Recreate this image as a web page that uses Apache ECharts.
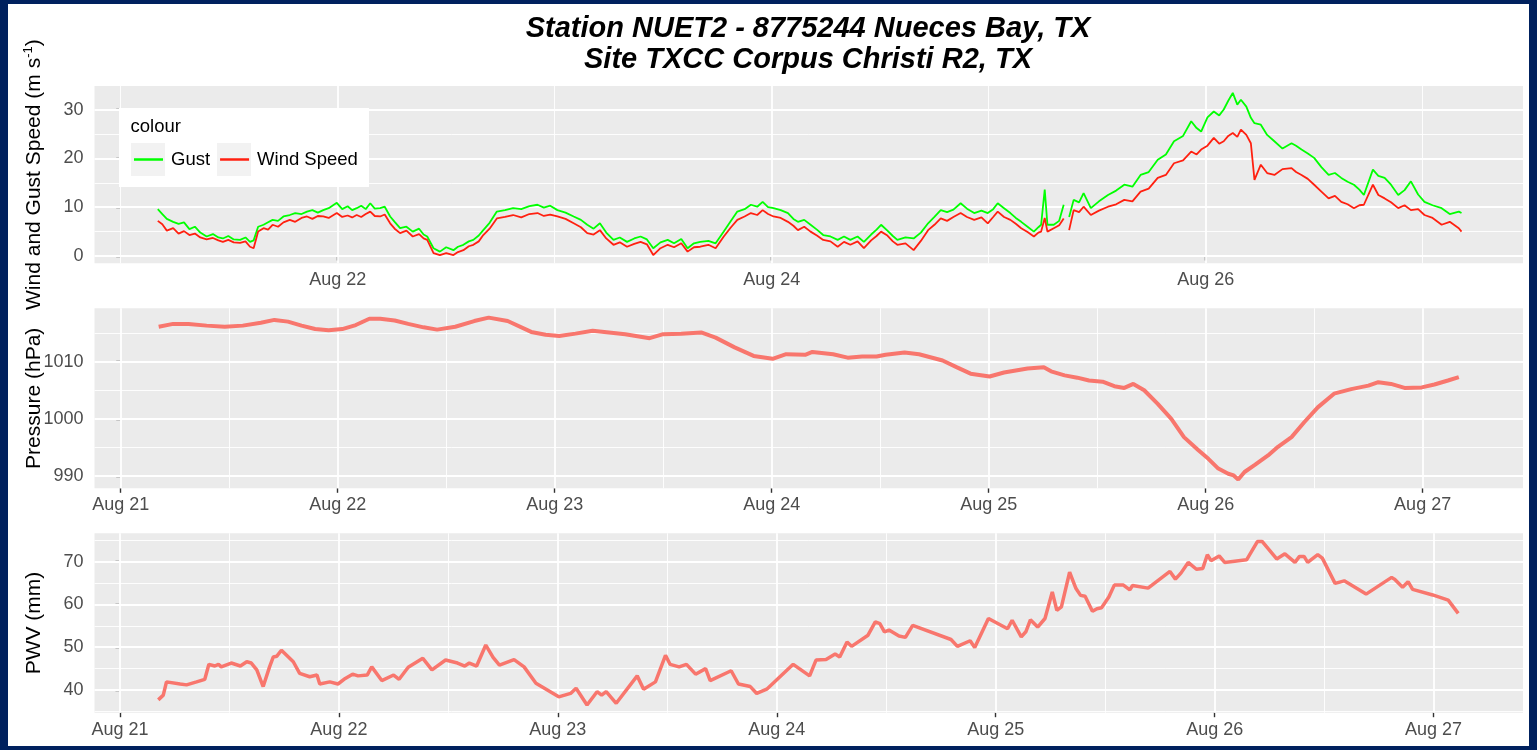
<!DOCTYPE html>
<html><head><meta charset="utf-8">
<script src="https://cdn.jsdelivr.net/npm/echarts@6/dist/echarts.min.js"></script>
<style>
html,body{margin:0;padding:0;background:#00215E;width:1537px;height:750px;overflow:hidden}
#chart{position:absolute;left:8px;top:4px;width:1521px;height:742px;background:#ffffff}
</style></head><body><div id="chart"></div>
<script>
// ---------- data (x = hours since Aug 21 00:00) ----------
const dayLabels = ['Aug 21','Aug 22','Aug 23','Aug 24','Aug 25','Aug 26','Aug 27'];

const windHours = [
 4.1,4.6,5.1,5.8,6.4,7.0,7.6,8.2,8.8,9.5,
 10.2,10.8,11.3,11.9,12.5,13.2,13.8,14.3,14.7,15.2,
 15.8,16.3,16.8,17.4,18.0,18.7,19.3,20.0,20.6,21.2,
 21.8,22.4,23.0,23.9,24.5,25.1,25.6,26.1,26.6,27.1,
 27.6,28.1,28.7,29.2,29.8,30.3,30.9,31.6,32.3,33.0,
 33.5,33.9,34.6,35.3,36.0,36.8,37.3,37.9,38.5,39.0,
 39.6,40.1,40.8,41.6,42.5,43.4,44.3,45.2,46.1,46.8,
 47.5,48.3,49.2,50.1,50.9,51.6,52.3,53.0,53.7,54.5,
 55.2,56.0,56.8,57.5,58.2,58.9,59.7,60.5,61.2,62.0,
 62.7,63.4,64.1,65.0,65.8,66.7,67.5,68.2,69.0,69.7,
 70.4,71.0,71.6,72.2,73.0,73.8,74.4,74.9,75.6,76.3,
 77.0,77.7,78.5,79.3,80.0,80.7,81.5,82.2,83.0,83.6,
 84.1,84.8,85.4,85.9,86.8,87.7,88.5,89.3,90.0,90.7,
 91.4,92.1,92.9,93.6,94.4,95.2,95.9,96.5,97.0,97.7,
 98.4,99.0,99.6,100.3,101.0,101.5,101.8,102.2,102.5,103.2,
 103.8,104.3,104.6,104.9,105.4,106.0,106.5,107.3,108.2,109.2,
 110.1,111.0,111.9,112.8,113.7,114.7,115.6,116.5,117.5,118.4,
 119.0,119.5,120.2,120.9,121.5,122.0,122.5,123.0,123.5,123.9,
 124.5,125.0,125.4,126.1,126.8,127.6,128.5,129.5,130.0,130.6,
 131.3,132.0,132.8,133.6,134.3,135.0,135.7,136.4,137.0,137.5,
 138.5,139.1,139.8,140.5,141.3,142.0,142.7,143.5,144.2,145.1,
 146.1,147.0,148.0,148.3
];
const windSpeed = [
 7.2,6.5,5.2,5.7,4.6,5.1,4.3,4.6,3.8,3.4,
 3.7,3.2,2.9,3.3,2.8,2.7,3.0,1.9,1.6,5.0,
 5.7,5.4,6.4,6.0,6.9,7.4,7.0,7.8,8.1,7.6,
 8.2,8.1,7.8,8.8,8.0,8.3,7.9,8.4,8.0,8.6,
 9.1,8.2,8.1,8.5,6.7,5.6,4.7,5.2,4.0,4.5,
 3.6,3.3,0.6,0.2,0.6,0.2,0.8,1.2,2.0,2.3,
 3.0,4.3,5.6,7.7,8.0,8.4,7.9,8.6,8.8,8.2,
 8.5,8.1,7.6,6.7,5.9,4.7,4.4,5.3,3.6,2.3,
 2.8,1.9,2.5,2.9,2.4,0.2,1.6,2.3,1.8,2.6,
 0.9,1.8,1.9,2.3,1.6,4.0,5.9,7.4,8.1,8.8,
 8.4,9.4,8.6,8.1,7.8,7.0,6.2,5.3,6.0,5.0,
 4.2,3.3,3.0,1.9,2.9,2.3,3.0,1.6,3.2,4.1,
 5.0,4.2,3.0,2.3,2.6,1.2,3.1,5.3,6.4,7.7,
 7.2,8.0,8.8,8.0,7.4,7.9,6.7,8.0,9.1,8.0,
 7.4,6.6,5.7,4.9,4.0,4.8,5.0,7.8,5.0,5.7,
 6.3,7.7,null,5.3,9.4,9.0,10.1,8.4,9.3,10.1,
 10.6,11.5,11.2,13.2,13.8,16.0,16.6,19.0,19.6,21.4,
 20.8,21.8,22.6,24.2,23.0,23.5,24.6,25.2,24.4,25.9,
 24.8,23.1,15.6,18.7,17.0,16.6,17.8,18.0,17.2,16.6,
 15.8,14.6,13.2,11.8,12.3,11.1,10.6,9.8,10.4,10.5,
 14.6,12.5,11.8,11.0,9.8,10.4,9.4,9.6,8.4,7.8,
 6.4,7.0,5.7,5.0
];
const gustSpeed = [
 9.6,8.6,7.6,7.0,6.6,6.9,5.5,6.0,4.8,4.0,
 4.5,3.8,3.6,4.1,3.4,3.3,3.8,2.9,3.2,6.0,
 6.4,6.9,7.4,7.2,8.1,8.4,8.8,8.6,9.1,9.4,
 8.9,9.4,9.8,10.9,9.6,10.2,9.4,9.8,10.3,9.6,
 10.8,9.7,9.8,10.1,8.1,7.0,5.7,6.0,5.0,5.6,
 4.4,4.0,1.6,0.9,1.8,1.2,1.9,2.3,3.0,3.3,
 4.2,5.3,6.8,9.1,9.4,9.8,9.6,10.2,10.5,9.9,
 10.3,9.4,8.9,8.1,7.4,6.4,5.6,6.7,4.8,3.3,
 3.8,2.9,3.6,4.0,3.4,1.6,2.8,3.3,2.6,3.5,
 1.6,2.6,2.9,3.1,2.6,5.0,7.2,9.1,9.6,10.5,
 10.1,11.1,10.0,9.8,9.4,8.8,7.6,7.0,7.4,6.4,
 5.4,4.3,4.0,3.3,4.0,3.3,4.0,2.9,4.4,5.4,
 6.4,5.2,4.1,3.3,3.8,3.6,4.8,6.7,8.0,9.4,
 9.0,9.5,10.8,9.7,8.8,9.3,8.8,9.6,10.8,9.8,
 8.8,7.8,7.0,6.0,5.0,5.9,6.4,13.6,6.4,6.4,
 7.2,10.5,null,8.0,11.5,11.0,12.9,9.8,11.2,12.5,
 13.4,14.6,14.2,16.6,17.2,19.7,20.8,23.5,24.6,27.6,
 26.2,25.5,28.4,29.6,28.8,30.0,31.8,33.4,31.0,32.0,
 30.6,28.3,27.2,26.9,24.8,23.5,22.0,23.1,22.6,21.8,
 21.0,20.1,18.2,16.6,17.0,16.0,15.2,14.6,13.6,12.5,
 17.7,16.4,16.0,14.6,12.5,13.5,15.3,12.6,11.1,10.4,
 9.8,8.6,9.1,8.8
];

const pressureHours = [
 4.2,5.8,7.5,9.5,11.5,13.5,15.5,17.0,18.5,20.0,
 21.5,23.0,24.5,26.0,27.5,28.7,30.3,31.8,33.5,35.0,
 37.0,39.1,40.7,42.8,45.4,47.0,48.5,50.3,52.2,54.0,
 55.8,58.5,60.0,62.0,64.2,65.8,67.9,70.0,72.1,73.6,
 75.7,76.5,78.8,80.4,82.0,83.6,84.6,86.7,88.3,90.9,
 92.5,94.0,96.1,97.7,100.3,102.1,102.9,104.4,105.8,107.1,
 108.6,109.9,111.0,112.0,113.2,114.7,116.2,117.6,119.2,120.3,
 121.4,122.5,123.1,123.6,124.3,125.4,126.9,128.0,129.5,130.9,
 132.4,134.2,136.1,138.0,139.1,140.5,142.0,143.9,145.3,146.8,
 148.0
];
const pressure = [
 1016.1,1016.6,1016.6,1016.3,1016.1,1016.3,1016.8,1017.3,1017.0,1016.3,
 1015.7,1015.5,1015.7,1016.4,1017.5,1017.5,1017.2,1016.6,1016.0,1015.6,
 1016.1,1017.1,1017.7,1017.1,1015.2,1014.7,1014.5,1014.9,1015.4,1015.1,
 1014.8,1014.1,1014.8,1014.9,1015.1,1014.2,1012.5,1011.0,1010.5,1011.3,
 1011.2,1011.7,1011.3,1010.7,1010.9,1010.9,1011.2,1011.6,1011.3,1010.2,
 1009.0,1007.9,1007.4,1008.1,1008.8,1009.0,1008.3,1007.6,1007.2,1006.7,
 1006.5,1005.7,1005.4,1006.1,1005.0,1002.6,1000.0,996.8,994.5,993.0,
 991.3,990.4,990.1,989.4,990.7,991.9,993.6,995.1,996.8,999.4,
 1002.0,1004.4,1005.2,1005.8,1006.4,1006.1,1005.4,1005.5,1006.0,1006.7,
 1007.3
];

const pwvHours = [
 4.2,4.75,5.1,6.6,7.3,8.4,9.3,9.75,10.4,10.8,
 11.1,12.2,13.2,13.9,14.4,15.0,15.7,16.4,16.8,17.2,
 17.7,19.0,19.7,20.8,21.6,21.9,23.0,23.9,24.7,25.5,
 26.1,27.1,27.6,28.7,30.0,30.6,31.6,33.2,34.2,35.7,
 37.0,37.8,38.3,39.1,40.1,40.9,41.6,43.2,44.3,45.6,
 48.1,49.4,50.0,51.2,52.3,52.8,53.3,54.4,56.7,57.4,
 58.7,59.8,60.3,61.3,62.1,63.1,64.2,64.7,67.0,67.8,
 69.1,69.8,70.9,73.8,75.6,76.3,77.4,78.4,78.9,79.7,
 80.2,82.0,82.8,83.3,83.8,84.3,85.4,86.1,86.9,91.1,
 91.8,93.2,93.7,95.2,97.3,97.8,98.8,99.3,99.8,100.6,
 101.4,102.2,102.7,103.2,104.1,104.8,105.3,105.8,106.6,107.1,
 107.6,108.4,109.0,110.0,110.7,111.0,112.7,115.1,115.7,116.3,
 116.5,117.1,118.0,118.7,119.2,119.6,120.5,121.1,123.5,124.7,
 125.2,126.8,127.7,128.8,129.3,129.8,130.2,131.3,131.8,133.2,
 134.2,136.6,139.4,139.7,140.6,141.2,141.7,143.9,145.6,146.7
];
const pwv = [
 37.7,38.8,41.9,41.4,41.2,41.9,42.5,46.0,45.6,46.0,
 45.4,46.3,45.6,46.6,46.3,44.7,40.8,45.4,47.7,47.9,
 49.3,46.6,43.9,43.1,43.5,41.4,41.9,41.4,42.7,43.7,
 43.3,43.5,45.4,42.2,43.5,42.5,45.3,47.4,44.7,47.0,
 46.3,45.6,46.3,45.6,50.5,47.6,45.8,47.1,45.4,41.6,
 38.4,39.2,40.4,36.5,39.6,38.8,39.6,36.9,43.3,40.2,
 41.9,48.1,46.0,45.4,46.0,43.7,45.0,42.2,44.5,41.4,
 40.8,39.2,40.2,46.0,43.3,47.0,47.1,48.4,47.7,51.2,
 50.2,52.8,55.9,55.5,53.6,54.0,52.6,52.3,55.1,51.8,
 50.2,51.5,49.9,56.7,54.3,56.3,52.4,53.6,56.4,54.7,
 56.7,62.9,58.6,59.4,67.5,63.7,62.1,61.9,58.4,59.0,
 59.2,61.7,64.5,64.5,63.4,64.4,63.8,67.7,65.9,67.3,
 67.1,69.8,68.2,68.4,71.6,70.2,71.3,69.8,70.4,74.7,
 74.7,70.6,71.8,69.8,71.2,71.2,69.8,71.6,70.8,64.9,
 65.5,62.4,66.3,65.9,64.0,65.3,63.5,62.2,61.0,57.9
];

// tick / gridline values
const windXTicks = [24,72,120];
const windXMinor = [0,48,96,144];
const dayXTicks = [0,24,48,72,96,120,144];
const dayXMinor = [12,36,60,84,108,132];
const windYTicks = [0,10,20,30];
const windYMinor = [5,15,25];
const pressureYTicks = [990,1000,1010];
const pressureYMinor = [995,1005,1015];
const pwvYTicks = [40,50,60,70];
const pwvYMinor = [35,45,55,65,75];

// ---------- layout ----------
const OX = 8, OY = 4;
const FONT = '"Liberation Sans", Arial, Helvetica, sans-serif';
const PLOT_L = 94.5, PLOT_R = 1523;
const panels = [{top:86,height:177.3},{top:308.3,height:180},{top:533.3,height:179.4}];
const grids = panels.map(p => ({left:PLOT_L-OX, top:p.top-OY, width:PLOT_R-PLOT_L, height:p.height,
  show:true, backgroundColor:'#EBEBEB', borderWidth:0, containLabel:false, outerBoundsMode:'none'}));

function xAx(i, min, max, ticks){
  return {type:'value', gridIndex:i, min:min, max:max,
    axisLine:{show:false}, splitLine:{show:false},
    axisTick:{show:true, customValues:ticks, length:4.5, lineStyle:{color:'#333333', width:1.4}},
    axisLabel:{customValues:ticks, formatter:v => dayLabels[Math.round(v/24)], color:'#4D4D4D',
      fontSize:18, fontFamily:FONT, margin:8}};
}
function yAx(i, min, max, ticks, name){
  return {type:'value', gridIndex:i, min:min, max:max,
    axisLine:{show:false}, splitLine:{show:false},
    axisTick:{show:true, customValues:ticks, length:4.5, lineStyle:{color:'#333333', width:1.4}},
    axisLabel:{customValues:ticks, formatter:v => String(v), color:'#4D4D4D', fontSize:18, fontFamily:FONT, margin:11},
    name:name, nameLocation:'middle', nameRotate:90, nameGap:47, nameMoveOverlap:false,
    nameTextStyle:{color:'#000', fontSize:21, fontFamily:FONT,
      rich:{a:{fontSize:21, fontFamily:FONT, color:'#000', lineHeight:26},
            b:{fontSize:13, fontFamily:FONT, color:'#000', verticalAlign:'top'}}}};
}
function gridSeries(i, xMaj, xMin, yMaj, yMin){
  const d = [];
  xMin.forEach(v => d.push({xAxis:v, lineStyle:{width:0.9}}));
  yMin.forEach(v => d.push({yAxis:v, lineStyle:{width:0.9}}));
  xMaj.forEach(v => d.push({xAxis:v, lineStyle:{width:1.8}}));
  yMaj.forEach(v => d.push({yAxis:v, lineStyle:{width:1.8}}));
  return {type:'line', xAxisIndex:i, yAxisIndex:i, data:[], silent:true, z:1, animation:false,
    markLine:{silent:true, z:1, symbol:['none','none'], label:{show:false}, animation:false,
      emphasis:{disabled:true}, lineStyle:{color:'#FFFFFF', type:'solid'}, data:d}};
}
const pair = (xs, ys) => xs.map((x,k) => [x, ys[k]]);

const option = {
  animation:false,
  grid:grids,
  xAxis:[xAx(0,-2.9,155.1,windXTicks), xAx(1,-2.9,155.1,dayXTicks), xAx(2,-2.79,153.8,dayXTicks)],
  yAxis:[yAx(0,-1.49,34.82,windYTicks,'{a|Wind and Gust Speed (m s}{b|-1}{a|)}'),
         yAx(1,987.85,1019.33,pressureYTicks,'{a|Pressure (hPa)}'),
         yAx(2,34.7,76.6,pwvYTicks,'{a|PWV (mm)}')],
  legend:{data:['Gust','Wind Speed'], left:134-OX, top:150-OY, padding:0, icon:'rect', itemWidth:29, itemHeight:2.5,
    itemGap:10, selectedMode:false, z:10,
    textStyle:{fontSize:18.5, fontFamily:FONT, color:'#000', padding:[0,0,0,3]}},
  graphic:[
    {type:'text', x:808-OX, y:29-OY, z:10, style:{text:'Station NUET2 - 8775244 Nueces Bay, TX', align:'center', verticalAlign:'middle',
      fontSize:29, fontWeight:'bold', fontStyle:'italic', fontFamily:FONT, fill:'#000'}},
    {type:'text', x:808-OX, y:60-OY, z:10, style:{text:'Site TXCC Corpus Christi R2, TX', align:'center', verticalAlign:'middle',
      fontSize:29, fontWeight:'bold', fontStyle:'italic', fontFamily:FONT, fill:'#000'}},
    {type:'rect', z:5, shape:{x:119-OX, y:108-OY, width:250, height:79}, style:{fill:'#FFFFFF'}},
    {type:'rect', z:6, shape:{x:131-OX, y:143-OY, width:34, height:33}, style:{fill:'#F2F2F2'}},
    {type:'rect', z:6, shape:{x:217-OX, y:143-OY, width:34, height:33}, style:{fill:'#F2F2F2'}},
    {type:'text', z:7, x:130.5-OX, y:127-OY, style:{text:'colour', align:'left', verticalAlign:'middle',
      fontSize:18.5, fontFamily:FONT, fill:'#000'}}
  ],
  series:[
    gridSeries(0, windXTicks, windXMinor, windYTicks, windYMinor),
    gridSeries(1, dayXTicks, dayXMinor, pressureYTicks, pressureYMinor),
    gridSeries(2, dayXTicks, dayXMinor, pwvYTicks, pwvYMinor),
    {name:'Gust', type:'line', xAxisIndex:0, yAxisIndex:0, data:pair(windHours,gustSpeed), showSymbol:false, symbol:'none',
      z:3, color:'#00FF00', lineStyle:{color:'#00FF00', width:1.8}, connectNulls:false},
    {name:'Wind Speed', type:'line', xAxisIndex:0, yAxisIndex:0, data:pair(windHours,windSpeed), showSymbol:false, symbol:'none',
      z:3, color:'#FF2010', lineStyle:{color:'#FF2010', width:1.8}, connectNulls:false},
    {name:'Pressure', type:'line', xAxisIndex:1, yAxisIndex:1, data:pair(pressureHours,pressure), showSymbol:false, symbol:'none',
      z:3, color:'#F8766D', lineStyle:{color:'#F8766D', width:4}},
    {name:'PWV', type:'line', xAxisIndex:2, yAxisIndex:2, data:pair(pwvHours,pwv), showSymbol:false, symbol:'none',
      z:3, color:'#F8766D', lineStyle:{color:'#F8766D', width:3.5}}
  ]
};
const chart = echarts.init(document.getElementById('chart'), null, {renderer:'canvas'});
chart.setOption(option);
</script></body></html>
